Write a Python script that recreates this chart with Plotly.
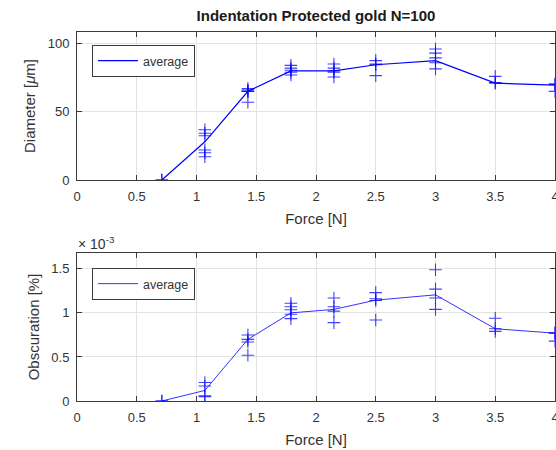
import plotly.graph_objects as go

# ---- data ----
force = [0.71, 1.07, 1.43, 1.79, 2.15, 2.5, 3.0, 3.5, 4.0]

diam_avg = [0, 28, 65, 80, 80, 84.5, 87.5, 71, 69.5]
diam_samples = [
    [0, 0],
    [36.8, 34.3, 32.4, 22, 20, 17],
    [67, 66, 65, 65, 57],
    [84, 82, 80.5, 79, 77],
    [85, 82, 80, 79, 75.5],
    [87.5, 85, 84.5, 76.5],
    [96, 93, 89.5, 86, 81.5],
    [76, 71.5, 71],
    [70.5, 70, 65],
]

obs_avg = [0, 0.12e-3, 0.70e-3, 1.0e-3, 1.04e-3, 1.145e-3, 1.205e-3, 0.82e-3, 0.77e-3]
obs_samples = [
    [0, 0],
    [0.21e-3, 0.17e-3, 0.06e-3, 0.05e-3],
    [0.75e-3, 0.70e-3, 0.67e-3, 0.52e-3],
    [1.11e-3, 1.07e-3, 1.035e-3, 0.985e-3, 0.935e-3],
    [1.17e-3, 1.07e-3, 1.02e-3, 0.89e-3],
    [1.23e-3, 1.16e-3, 1.14e-3, 0.92e-3],
    [1.49e-3, 1.27e-3, 1.17e-3, 1.04e-3],
    [0.94e-3, 0.82e-3, 0.79e-3],
    [0.775e-3, 0.77e-3, 0.68e-3],
]

x_ticks = [0, 0.5, 1, 1.5, 2, 2.5, 3, 3.5, 4]
x_ticklabels = ["0", "0.5", "1", "1.5", "2", "2.5", "3", "3.5", "4"]
diam_ticks = [0, 50, 100]
obs_ticks = [0, 0.5e-3, 1.0e-3, 1.5e-3]
obs_ticklabels = ["0", "0.5", "1", "1.5"]

# ---- figure ----
FONT = "Liberation Sans, Arial, sans-serif"
BLUE = "#0000ff"
FRAME = "#3a3a3a"
GRID = "#e3e3e3"
TXT = "#333333"

fig = go.Figure()

def flat(xs, samples):
    xx, yy = [], []
    for x, s in zip(xs, samples):
        for v in s:
            xx.append(x)
            yy.append(v)
    return xx, yy

# top panel
fig.add_trace(go.Scatter(x=force, y=diam_avg, mode="lines", name="average",
                         line=dict(color=BLUE, width=1.2),
                         xaxis="x", yaxis="y", legend="legend"))
sx, sy = flat(force, diam_samples)
fig.add_trace(go.Scatter(x=sx, y=sy, mode="markers", showlegend=False,
                         marker=dict(symbol="cross-thin", size=9,
                                     line=dict(color="rgba(0,0,255,0.75)", width=1.1)),
                         xaxis="x", yaxis="y"))

# bottom panel
fig.add_trace(go.Scatter(x=force, y=obs_avg, mode="lines", name="average",
                         line=dict(color="rgba(0,0,255,0.8)", width=1),
                         xaxis="x2", yaxis="y2", legend="legend2"))
sx2, sy2 = flat(force, obs_samples)
fig.add_trace(go.Scatter(x=sx2, y=sy2, mode="markers", showlegend=False,
                         marker=dict(symbol="cross-thin", size=9,
                                     line=dict(color="rgba(0,0,255,0.75)", width=1.1)),
                         xaxis="x2", yaxis="y2"))

axis_common = dict(showline=True, linecolor=FRAME, linewidth=1, mirror="allticks",
                   ticks="inside", ticklen=5, tickcolor=FRAME,
                   showgrid=True, gridcolor=GRID, gridwidth=1, zeroline=False,
                   tickfont=dict(family=FONT, size=13, color=TXT),
                   ticklabeloverflow="allow",
                   automargin=False)

xdom = [77 / 556, 555 / 556]

fig.update_layout(
    width=556, height=450,
    margin=dict(l=0, r=0, t=0, b=0),
    paper_bgcolor="white", plot_bgcolor="white",
    template="none",
    font=dict(family=FONT, color=TXT),
    title=dict(text="<b>Indentation Protected gold N=100</b>",
               x=316 / 556, xanchor="center", y=1 - 16 / 450, yanchor="middle",
               font=dict(family=FONT, size=15, color="#1a1a1a")),
    xaxis=dict(axis_common, domain=xdom, range=[0, 4], anchor="y",
               tickvals=x_ticks, ticktext=x_ticklabels, ticklabelstandoff=4,
               title=dict(text="Force [N]", font=dict(family=FONT, size=15, color=TXT), standoff=10)),
    yaxis=dict(axis_common, domain=[1 - 180 / 450, 1 - 32 / 450], range=[0, 108.5],
               anchor="x", tickvals=diam_ticks, ticklabelstandoff=4,
               title=dict(text="Diameter [<i>μ</i>m]", font=dict(family=FONT, size=15, color=TXT), standoff=8)),
    xaxis2=dict(axis_common, domain=xdom, range=[0, 4], anchor="y2",
                tickvals=x_ticks, ticktext=x_ticklabels, ticklabelstandoff=4,
                title=dict(text="Force [N]", font=dict(family=FONT, size=15, color=TXT), standoff=10)),
    yaxis2=dict(axis_common, domain=[1 - 401 / 450, 1 - 253 / 450], range=[0, 1.68e-3],
                anchor="x2", tickvals=obs_ticks, ticktext=obs_ticklabels, ticklabelstandoff=4,
                title=dict(text="Obscuration [%]", font=dict(family=FONT, size=15, color=TXT), standoff=8)),
    legend=dict(x=92 / 556, y=1 - 45 / 450, xanchor="left", yanchor="top",
                bgcolor="white", bordercolor=FRAME, borderwidth=1,
                font=dict(family=FONT, size=12.5, color=TXT), itemwidth=40,
                tracegroupgap=0),
    legend2=dict(x=92 / 556, y=1 - 268 / 450, xanchor="left", yanchor="top",
                 bgcolor="white", bordercolor=FRAME, borderwidth=1,
                 font=dict(family=FONT, size=12.5, color=TXT), itemwidth=40,
                 tracegroupgap=0),
    annotations=[dict(text="× 10<sup>-3</sup>", xref="paper", yref="paper",
                      x=76 / 556, y=1 - 243 / 450, xanchor="left", yanchor="middle",
                      showarrow=False, font=dict(family=FONT, size=14, color=TXT))],
)

fig.write_html("out.html")
